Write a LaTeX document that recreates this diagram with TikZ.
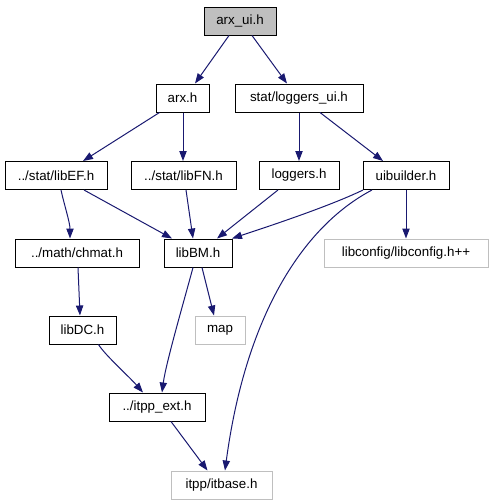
\documentclass[tikz,border=0pt]{standalone}
\usepackage{fontspec}
\setmainfont{Liberation Sans}
\usetikzlibrary{arrows.meta,calc}
\definecolor{edgecol}{HTML}{191970}
\definecolor{extgray}{HTML}{BFBFBF}
\tikzset{
  box/.style={draw=black, line width=0.75pt, inner sep=0pt, minimum height=21pt, font=\fontsize{10pt}{12pt}\selectfont},
  extbox/.style={box, draw=extgray},
  mainbox/.style={box, fill=extgray},
  w/.style={minimum width=#1*0.75pt},
  dep/.style={draw=edgecol, line width=0.75pt, -{Triangle[length=7.5pt,width=5.5pt]}}
}
\begin{document}
\begin{tikzpicture}[x=0.75pt,y=-0.75pt]
\useasboundingbox (0,0) rectangle (492,504);
\node[mainbox,w=72] (arxui) at (240,21) {arx\_ui.h};
\node[box,w=53] (arx) at (182.5,98) {arx.h};
\node[box,w=128] (logui) at (299,98) {stat/loggers\_ui.h};
\node[box,w=102] (libEF) at (56,175.5) {../stat/libEF.h};
\node[box,w=105] (libFN) at (183.5,175.5) {../stat/libFN.h};
\node[box,w=80] (loggers) at (299,175.5) {loggers.h};
\node[box,w=86] (uib) at (406,175.5) {uibuilder.h};
\node[box,w=124] (chmat) at (77,253) {../math/chmat.h};
\node[box,w=68] (libBM) at (198,253) {libBM.h};
\node[extbox,w=164] (libconfig) at (406,253) {libconfig/libconfig.h++};
\node[box,w=67] (libDC) at (82.5,330) {libDC.h};
\node[extbox,w=50] (map) at (220,330) {map};
\node[box,w=96] (itppext) at (157,407) {../itpp\_ext.h};
\node[extbox,w=101] (itbase) at (221.5,485) {itpp/itbase.h};

\draw[dep] ($(arxui.south)+(-11,0)$) -- ($(arx.north)+(12.5,0)$);
\draw[dep] ($(arxui.south)+(12,0)$) -- ($(logui.north)+(-12,0)$);
\draw[dep] ($(arx.south)+(-23,0)$) -- ($(libEF.north)+(27,0)$);
\draw[dep] ($(arx.south)+(0.5,0)$) -- ($(libFN.north)+(-0.5,0)$);
\draw[dep] (logui.south) -- (loggers.north);
\draw[dep] ($(logui.south)+(21,0)$) -- ($(uib.north)+(-23,0)$);
\draw[dep] ($(libEF.south)+(5,0)$) .. controls +(3,14) and +(0,-16) .. ($(chmat.north)+(-7,0)$);
\draw[dep] ($(libEF.south)+(28,0)$) -- ($(libBM.north)+(-26,0)$);
\draw[dep] ($(libFN.south)+(2.5,0)$) -- ($(libBM.north)+(-5,0)$);
\draw[dep] ($(loggers.south)+(-21,0)$) -- ($(libBM.north)+(19,0)$);
\draw[dep] ($(uib.south)+(-43,0)$) .. controls +(-35,17) and +(30,-10) .. ($(libBM.north)+(34,0)$);
\draw[dep] ($(uib.south)+(-34,0)$) .. controls +(-72,38) and +(20,-150) .. ($(itbase.north)+(3.5,0)$);
\draw[dep] (uib.south) -- (libconfig.north);
\draw[dep] ($(libBM.south)+(4,0)$) -- ($(map.north)+(-6,0)$);
\draw[dep] ($(libBM.south)+(-5,0)$) .. controls +(-8,30) and +(4,-30) .. ($(itppext.north)+(5,0)$);
\draw[dep] ($(chmat.south)+(1,0)$) -- ($(libDC.north)+(-2.5,0)$);
\draw[dep] ($(libDC.south)+(16,0)$) .. controls +(6,10) and +(-14,-16) .. ($(itppext.north)+(-14,0)$);
\draw[dep] ($(itppext.south)+(14,0)$) -- ($(itbase.north)+(-14,0)$);
\end{tikzpicture}
\end{document}
